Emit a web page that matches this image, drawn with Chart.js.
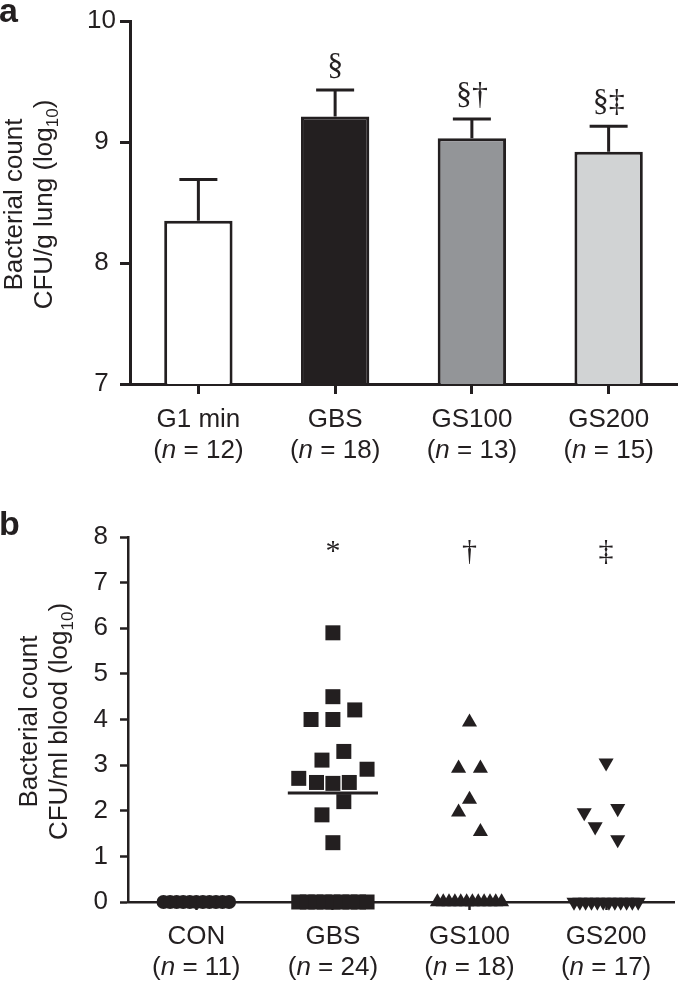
<!DOCTYPE html>
<html>
<head>
<meta charset="utf-8">
<script src="https://cdn.jsdelivr.net/npm/chart.js@4.4.1/dist/chart.umd.min.js"></script>
<style>
  html, body { margin: 0; padding: 0; background: #fff; }
  #wrapA { position: absolute; left: 0; top: 0; width: 685px; height: 490px; }
  #wrapB { position: absolute; left: 0; top: 490px; width: 685px; height: 491px; }
</style>
</head>
<body>
<div id="wrapA"><canvas id="chartA"></canvas></div>
<div id="wrapB"><canvas id="chartB"></canvas></div>
<script>
const INK = "#231f20";
const FONT = '26px "Liberation Sans"';
const ITALIC = 'italic 26px "Liberation Sans"';
const SUB = '17px "Liberation Sans"';
const MARK = '32px "Liberation Serif"';

// panel a: lung
const groupsA = ["G1 min", "GBS", "GS100", "GS200"];
const nA = [12, 18, 13, 15];
const meanA = [8.35, 9.21, 9.03, 8.92];
const semA = [0.34, 0.22, 0.16, 0.21];
const sigA = ["", "§", "§†", "§‡"];
const fillA = ["#ffffff", "#231f20", "#939598", "#d1d3d4"];
const ticksA = [7, 8, 9, 10];

// panel b: blood, every animal (offset = sideways spread inside the group)
const groupsB = ["CON", "GBS", "GS100", "GS200"];
const nB = [11, 24, 18, 17];
const sigB = ["", "*", "†", "‡"];
const ticksB = [0, 1, 2, 3, 4, 5, 6, 7, 8];
const medianGbs = 2.39;

const conOff = [-0.24, -0.192, -0.144, -0.096, -0.048, 0, 0.048, 0.096, 0.144, 0.192, 0.24];
const conVal = [0, 0, 0, 0, 0, 0, 0, 0, 0, 0, 0];

const gbsOff = [0, 0, 0.16, -0.16, 0, 0.08, -0.08, 0.25, -0.25, -0.12, 0, 0.12, 0.08, -0.08, 0,
                -0.25, -0.1875, -0.125, -0.0625, 0, 0.0625, 0.125, 0.1875, 0.25];
const gbsVal = [5.9, 4.5, 4.21, 4.0, 4.0, 3.3, 3.11, 2.91, 2.71, 2.62, 2.6, 2.62, 2.2, 1.91, 1.3,
                0, 0, 0, 0, 0, 0, 0, 0, 0];

const gs100Off = [0, -0.08, 0.08, 0, -0.08, 0.08,
                  -0.235, -0.192, -0.15, -0.107, -0.064, -0.021, 0.021, 0.064, 0.107, 0.15, 0.192, 0.235];
const gs100Val = [3.94, 2.93, 2.93, 2.25, 1.97, 1.54,
                  0, 0, 0, 0, 0, 0, 0, 0, 0, 0, 0, 0];

const gs200Off = [0, -0.16, 0.085, -0.08, 0.085,
                  -0.235, -0.192, -0.15, -0.107, -0.064, -0.021, 0.021, 0.064, 0.107, 0.15, 0.192, 0.235];
const gs200Val = [3.05, 1.96, 2.05, 1.65, 1.37,
                  0, 0, 0, 0, 0, 0, 0, 0, 0, 0, 0, 0];

Chart.defaults.font.family = "Liberation Sans";
Chart.defaults.color = INK;

function points(group, offs, vals) {
  return vals.map((v, i) => ({ x: group + offs[i], y: v }));
}

function drawParts(ctx, parts, x, y) {
  parts.forEach(p => {
    ctx.font = p.font;
    ctx.fillText(p.text, x, y + (p.dy || 0));
    x += ctx.measureText(p.text).width;
  });
}

function partsWidth(ctx, parts) {
  let w = 0;
  parts.forEach(p => { ctx.font = p.font; w += ctx.measureText(p.text).width; });
  return w;
}

function catLabels(chart, names, counts, y1, y2) {
  const ctx = chart.ctx;
  const xs = chart.scales.x;
  ctx.save();
  ctx.fillStyle = INK;
  ctx.textBaseline = "alphabetic";
  names.forEach((name, i) => {
    const cx = xs.getPixelForTick(i);
    ctx.font = FONT;
    ctx.textAlign = "center";
    ctx.fillText(name, cx, y1);
    const parts = [
      { text: "(", font: FONT },
      { text: "n", font: ITALIC },
      { text: " = " + counts[i] + ")", font: FONT }
    ];
    ctx.textAlign = "left";
    drawParts(ctx, parts, cx - partsWidth(ctx, parts) / 2, y2);
  });
  ctx.restore();
}

function yTitle(chart, lines, baselines) {
  const ctx = chart.ctx;
  const area = chart.chartArea;
  const cy = (area.top + area.bottom) / 2 + 2;
  ctx.save();
  ctx.fillStyle = INK;
  ctx.textAlign = "left";
  ctx.textBaseline = "alphabetic";
  lines.forEach((parts, i) => {
    ctx.save();
    ctx.translate(baselines[i], cy);
    ctx.rotate(-Math.PI / 2);
    drawParts(ctx, parts, -partsWidth(ctx, parts) / 2, 0);
    ctx.restore();
  });
  ctx.restore();
}

function panelLetter(chart, letter, y) {
  const ctx = chart.ctx;
  ctx.save();
  ctx.fillStyle = INK;
  ctx.font = 'bold 34px "Liberation Sans"';
  ctx.textAlign = "left";
  ctx.fillText(letter, -1, y);
  ctx.restore();
}

const lungPlugin = {
  id: "lungExtras",
  afterDatasetsDraw(chart) {
    const ctx = chart.ctx;
    const y = chart.scales.y;
    const bars = chart.getDatasetMeta(0).data;
    ctx.save();
    ctx.strokeStyle = INK;
    ctx.lineWidth = 3;
    ctx.fillStyle = INK;
    ctx.font = MARK;
    ctx.textAlign = "center";
    bars.forEach((bar, i) => {
      const base = y.getPixelForValue(meanA[i]);
      const top = y.getPixelForValue(meanA[i] + semA[i]);
      ctx.beginPath();
      ctx.moveTo(bar.x, base);
      ctx.lineTo(bar.x, top);
      ctx.moveTo(bar.x - 19, top);
      ctx.lineTo(bar.x + 19, top);
      ctx.stroke();
      if (sigA[i]) ctx.fillText(sigA[i], bar.x, top - 15);
    });
    ctx.restore();
  },
  afterDraw(chart) {
    catLabels(chart, groupsA, nA, 427, 458);
    yTitle(chart, [
      [{ text: "Bacterial count", font: FONT }],
      [{ text: "CFU/g lung (log", font: FONT }, { text: "10", font: SUB, dy: 6 }, { text: ")", font: FONT }]
    ], [22, 52]);
    panelLetter(chart, "a", 22);
  }
};

const bloodPlugin = {
  id: "bloodExtras",
  afterDatasetsDraw(chart) {
    const ctx = chart.ctx;
    const xs = chart.scales.x;
    const y = chart.scales.y;
    ctx.save();
    ctx.fillStyle = INK;
    ctx.font = '30px "Liberation Serif"';
    ctx.textAlign = "center";
    sigB.forEach((s, i) => {
      if (s) ctx.fillText(s, xs.getPixelForValue(i + 1), y.getPixelForValue(7.5));
    });
    ctx.restore();
  },
  afterDraw(chart) {
    catLabels(chart, groupsB, nB, 454, 485);
    yTitle(chart, [
      [{ text: "Bacterial count", font: FONT }],
      [{ text: "CFU/ml blood (log", font: FONT }, { text: "10", font: SUB, dy: 6 }, { text: ")", font: FONT }]
    ], [37, 67]);
    panelLetter(chart, "b", 45);
  }
};

new Chart(document.getElementById("chartA"), {
  type: "bar",
  data: {
    labels: groupsA,
    datasets: [{
      data: meanA,
      backgroundColor: fillA,
      borderColor: INK,
      borderWidth: 3,
      borderSkipped: "bottom",
      barPercentage: 0.5,
      categoryPercentage: 1
    }]
  },
  options: {
    responsive: true,
    maintainAspectRatio: false,
    animation: false,
    events: [],
    layout: { padding: { left: 0, right: 8, top: 21, bottom: 0 } },
    plugins: { legend: { display: false }, tooltip: { enabled: false } },
    scales: {
      x: {
        grid: { drawOnChartArea: false, offset: false, tickLength: 10, tickWidth: 3, tickColor: INK },
        border: { color: INK, width: 3 },
        ticks: { display: false },
        afterFit: s => { s.height = 106; }
      },
      y: {
        min: 7,
        max: 10,
        afterBuildTicks: s => { s.ticks = ticksA.map(v => ({ value: v })); },
        grid: { drawOnChartArea: false, tickLength: 10, tickWidth: 3, tickColor: INK },
        border: { color: INK, width: 3 },
        ticks: { font: { size: 26 }, color: INK, padding: 4, crossAlign: "center" },
        afterFit: s => { s.width = 130; }
      }
    }
  },
  plugins: [lungPlugin]
});

const markerBase = { backgroundColor: INK, borderWidth: 0, clip: false, order: 1 };

new Chart(document.getElementById("chartB"), {
  type: "scatter",
  data: {
    datasets: [
      {
        type: "line",
        data: [{ x: 2 - 0.33, y: medianGbs }, { x: 2 + 0.33, y: medianGbs }],
        borderColor: INK,
        borderWidth: 3,
        pointRadius: 0,
        order: 0
      },
      Object.assign({ data: points(1, conOff, conVal), pointStyle: "circle", pointRadius: 7 }, markerBase),
      Object.assign({ data: points(2, gbsOff, gbsVal), pointStyle: "rect", pointRadius: 10.6 }, markerBase),
      Object.assign({ data: points(3, gs100Off, gs100Val), pointStyle: "triangle", pointRadius: 8.7 }, markerBase),
      Object.assign({ data: points(4, gs200Off, gs200Val), pointStyle: "triangle", pointRadius: 8.7, rotation: 180 }, markerBase)
    ]
  },
  options: {
    responsive: true,
    maintainAspectRatio: false,
    animation: false,
    events: [],
    layout: { padding: { left: 0, right: 5, top: 47, bottom: 0 } },
    plugins: { legend: { display: false }, tooltip: { enabled: false } },
    scales: {
      x: {
        type: "linear",
        min: 0.5,
        max: 4.5,
        afterBuildTicks: s => { s.ticks = groupsB.map((g, i) => ({ value: i + 1 })); },
        grid: { drawOnChartArea: false, tickLength: 8, tickWidth: 2.5, tickColor: INK },
        border: { color: INK, width: 2.5 },
        ticks: { display: false },
        afterFit: s => { s.height = 79; }
      },
      y: {
        min: 0,
        max: 8,
        afterBuildTicks: s => { s.ticks = ticksB.map(v => ({ value: v })); },
        grid: { drawOnChartArea: false, tickLength: 8, tickWidth: 2.5, tickColor: INK },
        border: { color: INK, width: 2.5 },
        ticks: { font: { size: 26 }, color: INK, padding: 12 },
        afterFit: s => { s.width = 128; }
      }
    }
  },
  plugins: [bloodPlugin]
});
</script>
</body>
</html>
